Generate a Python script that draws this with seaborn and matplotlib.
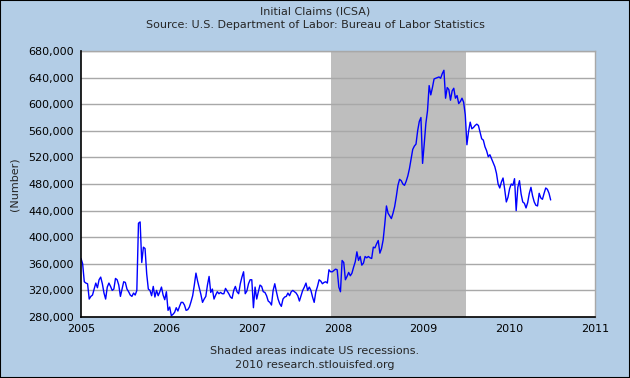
import matplotlib
matplotlib.use("Agg")
import matplotlib.pyplot as plt
import matplotlib.dates as mdates
from matplotlib.patches import Rectangle
from matplotlib.ticker import FuncFormatter, MultipleLocator
import seaborn as sns
import pandas as pd

# Weekly initial claims, thousands
v2005 = [368, 360, 333, 331, 330, 307, 311, 313, 322, 331, 324, 336, 340, 330, 316, 307, 325, 331, 326, 320,
         322, 338, 336, 328, 311, 322, 333, 332, 322, 318, 313, 311, 316, 313, 320, 421, 423, 362, 385, 383,
         345, 322, 320, 312, 326, 310, 320, 312, 318, 325, 313, 306]
v2006 = [318, 290, 295, 282, 284, 287, 294, 289, 296, 302, 302, 298, 290, 291, 295, 303, 312, 328, 346, 334,
         324, 314, 302, 307, 311, 328, 341, 317, 322, 307, 313, 318, 315, 317, 315, 315, 323, 319, 315, 310,
         308, 320, 326, 318, 315, 330, 340, 348, 315, 319, 330, 336]
v2007 = [336, 294, 325, 307, 318, 328, 326, 318, 317, 312, 304, 302, 298, 320, 330, 318, 307, 300, 296, 307,
         310, 311, 316, 312, 318, 320, 318, 316, 312, 304, 312, 320, 325, 331, 320, 325, 320, 310, 302, 318,
         326, 336, 334, 330, 332, 333, 331, 351, 348, 348, 350, 352]
v2008 = [351, 325, 318, 365, 362, 336, 341, 347, 342, 346, 355, 363, 378, 365, 371, 358, 361, 371, 369, 371,
         369, 368, 385, 384, 390, 395, 376, 383, 396, 420, 447, 436, 432, 428, 436, 446, 461, 478, 487, 485,
         480, 478, 484, 492, 503, 518, 532, 537, 540, 560, 574, 580]
v2009 = [511, 540, 571, 590, 628, 614, 625, 638, 639, 640, 641, 639, 646, 651, 609, 625, 622, 606, 620, 624,
         609, 613, 601, 604, 609, 603, 584, 539, 559, 573, 563, 565, 568, 570, 568, 558, 548, 546, 536, 530,
         521, 524, 518, 512, 506, 496, 480, 474, 483, 489, 472, 453]
v2010 = [460, 473, 480, 478, 488, 440, 475, 485, 465, 453, 451, 444, 452, 466, 475, 462, 453, 448, 447, 466,
         459, 457, 466, 474, 472, 466, 456]

start_date = "2005-01-01"
recession = ("2007-12-01", "2009-06-30")
x_years = [2005, 2006, 2007, 2008, 2009, 2010, 2011]
y_ticks = list(range(280000, 680001, 40000))

values = [v * 1000 for v in (v2005 + v2006 + v2007 + v2008 + v2009 + v2010)]
dates = pd.date_range(start_date, periods=len(values), freq="W-SAT")
df = pd.DataFrame({"date": dates, "claims": values})

sns.set_style("white")
plt.rcParams["font.family"] = ["DejaVu Sans"]

bg = "#B3CDE6"
fig = plt.figure(figsize=(6.3, 3.78), dpi=100, facecolor=bg)
ax = fig.add_axes([81 / 630, 1 - 317 / 378, (595 - 81) / 630, (317 - 51) / 378])
ax.set_facecolor("white")

ax.axvspan(pd.Timestamp(recession[0]), pd.Timestamp(recession[1]), color="#BEBEBE", zorder=0.5, lw=0)
sns.lineplot(data=df, x="date", y="claims", color="#0000FF", linewidth=1.0, ax=ax, zorder=3)

ax.set_xlim(pd.Timestamp(f"{x_years[0]}-01-01"), pd.Timestamp(f"{x_years[-1]}-01-01"))
ax.set_ylim(y_ticks[0], y_ticks[-1])
ax.set_xticks([pd.Timestamp(f"{y}-01-01") for y in x_years])
ax.xaxis.set_major_formatter(mdates.DateFormatter("%Y"))
ax.set_yticks(y_ticks)
ax.yaxis.set_major_formatter(FuncFormatter(lambda v, p: f"{int(v):,}"))

ax.grid(axis="y", color="#A8A8A8", linewidth=1.0, zorder=1)
ax.grid(axis="x", visible=False)
ax.set_axisbelow(False)
for line in ax.get_ygridlines():
    line.set_zorder(1)

ax.tick_params(axis="both", direction="in", length=4, width=1, color="black",
               labelsize=8, labelcolor="black")
ax.tick_params(axis="y", pad=5)
ax.tick_params(axis="x", pad=5)
ax.set_xlabel("")
ax.set_ylabel("")

for s in ["left", "bottom"]:
    ax.spines[s].set_color("black")
    ax.spines[s].set_linewidth(1.2)
    ax.spines[s].set_zorder(4)
for s in ["top", "right"]:
    ax.spines[s].set_color("#A8A8A8")
    ax.spines[s].set_linewidth(1.0)

fig.text(0.5, 1 - 12 / 378, "Initial Claims (ICSA)", ha="center", va="center", fontsize=8)
fig.text(0.5, 1 - 25 / 378, "Source: U.S. Department of Labor: Bureau of Labor Statistics",
         ha="center", va="center", fontsize=8)
fig.text(14 / 630, 1 - 184 / 378, "(Number)", rotation=90, ha="center", va="center", fontsize=8)
fig.text(0.5, 1 - 351 / 378, "Shaded areas indicate US recessions.", ha="center", va="center", fontsize=8)
fig.text(0.5, 1 - 365 / 378, "2010 research.stlouisfed.org", ha="center", va="center", fontsize=8)

fig.patches.append(Rectangle((0, 0), 1, 1, transform=fig.transFigure, fill=False,
                             edgecolor="black", linewidth=1.5, zorder=10))

fig.savefig("out.png", dpi=100, facecolor=bg)
